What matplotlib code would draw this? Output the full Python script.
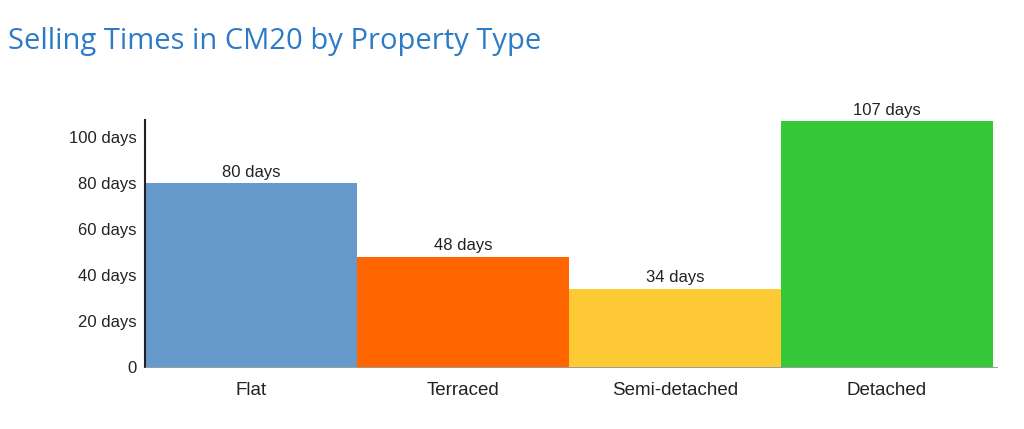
import matplotlib
matplotlib.use('Agg')
import matplotlib.pyplot as plt
import numpy as np

categories = ['Flat', 'Terraced', 'Semi-detached', 'Detached']
days = [80, 48, 34, 107]
colors = ['#6699cc', '#ff6600', '#fdca35', '#35c93a']
yticks = [0, 20, 40, 60, 80, 100]
ytick_labels = ['0', '20 days', '40 days', '60 days', '80 days', '100 days']

fig = plt.figure(figsize=(10.24, 4.29), dpi=100)
ax = fig.add_axes([145 / 1024, 1 - 367 / 429, (997 - 145) / 1024, (367 - 120) / 429])

x = np.arange(len(categories))
ax.bar(x, days, width=1.0, color=colors, zorder=2)
for xi, v in zip(x, days):
    ax.text(xi, v + 1.5, f'{v} days', ha='center', va='bottom',
            fontsize=12, color='#222222', family='Liberation Sans')

ax.set_xlim(-0.5, 3.52)
ax.set_ylim(0, 107.5)
ax.set_yticks(yticks)
ax.set_yticklabels(ytick_labels)
ax.set_xticks(x)
ax.set_xticklabels(categories)
for lab in ax.get_xticklabels() + ax.get_yticklabels():
    lab.set_family('Liberation Sans')
    lab.set_color('#222222')
for lab in ax.get_yticklabels():
    lab.set_fontsize(12)
for lab in ax.get_xticklabels():
    lab.set_fontsize(13.5)
ax.tick_params(axis='y', length=0, pad=6)
ax.tick_params(axis='x', length=0, pad=11)

for s in ['top', 'right']:
    ax.spines[s].set_visible(False)
ax.spines['left'].set_linewidth(1.5)
ax.spines['left'].set_color('#222222')
ax.spines['bottom'].set_color('#888888')
ax.spines['bottom'].set_linewidth(0.6)

fig.text(8 / 1024, 1 - 41 / 429, 'Selling Times in CM20 by Property Type',
         fontsize=21, color='#2d7bc6', family='Open Sans', va='center', ha='left')

fig.savefig('out.png', dpi=100)
